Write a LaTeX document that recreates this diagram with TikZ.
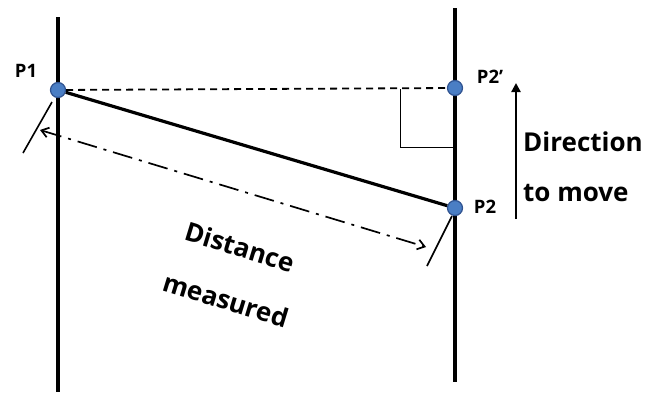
\documentclass[tikz,border=0pt]{standalone}
\usepackage{fontspec}
\setmainfont{Open Sans}
\usetikzlibrary{arrows.meta}
\definecolor{ptfill}{HTML}{4A7EC4}
\definecolor{ptdraw}{HTML}{2F528F}
\tikzset{
  pt/.style={circle, fill=ptfill, draw=ptdraw, line width=1.2pt, minimum size=15pt, inner sep=0pt},
  axis/.style={line width=3.2pt},
  lbl/.style={font=\bfseries\fontsize{18.5}{20}\selectfont, inner sep=0pt},
  big/.style={font=\bfseries\fontsize{26}{30}\selectfont, inner sep=0pt},
  tick/.style={line width=1.6pt},
}
\begin{document}
\begin{tikzpicture}[x=1pt,y=-1pt]
\useasboundingbox (0,0) rectangle (658,394);
% vertical lines
\coordinate (Ltop) at (58,17);
\coordinate (Lbot) at (58,392);
\coordinate (Rtop) at (455,8);
\coordinate (Rbot) at (455,382);
\draw[axis] (Ltop) -- (Lbot);
\draw[axis] (Rtop) -- (Rbot);
% right angle marker
\coordinate (ra1) at (400,89);
\coordinate (ra2) at (400,147);
\coordinate (ra3) at (455,147);
\draw[line width=1pt] (ra1) -- (ra2) -- (ra3);
% points
\node[pt] (P1) at (58,90) {};
\node[pt] (P2p) at (455,88) {};
\node[pt] (P2) at (455,208) {};
\draw[line width=1.8pt, dash pattern=on 7pt off 5pt] (P1) -- (P2p);
\draw[line width=3.2pt] (P1) -- (P2);
% ticks
\coordinate (t1a) at (52,102);
\coordinate (t1b) at (23,153);
\coordinate (t2a) at (452,216);
\coordinate (t2b) at (427,266);
\draw[tick] (t1a) -- (t1b);
\draw[tick] (t2a) -- (t2b);
% dash-dot distance arrow
\coordinate (da) at (40,130);
\coordinate (db) at (426,247);
\draw[line width=1.7pt, dash pattern=on 20pt off 7pt on 3pt off 7pt, {Straight Barb[length=7pt,width=10pt]}-{Straight Barb[length=7pt,width=10pt]}] (da) -- (db);
% labels
\node[lbl] (l1) at (26,71) {P1};
\node[lbl] (l2p) at (490,77) {P2’};
\node[lbl] (l2) at (485,207) {P2};
% direction arrow
\coordinate (ar1) at (516,219);
\coordinate (ar2) at (516,83);
\draw[line width=2.6pt, -{Triangle[length=9pt,width=9pt]}] (ar1) -- (ar2);
\node[big, anchor=west] (dir) at (523,142) {Direction};
\node[big, anchor=west] (mov) at (523,193) {to move};
% distance measured text
\node[big, rotate=-17] (dist) at (240,247) {Distance};
\node[big, rotate=-17] (meas) at (226,300) {measured};
\end{tikzpicture}
\end{document}
